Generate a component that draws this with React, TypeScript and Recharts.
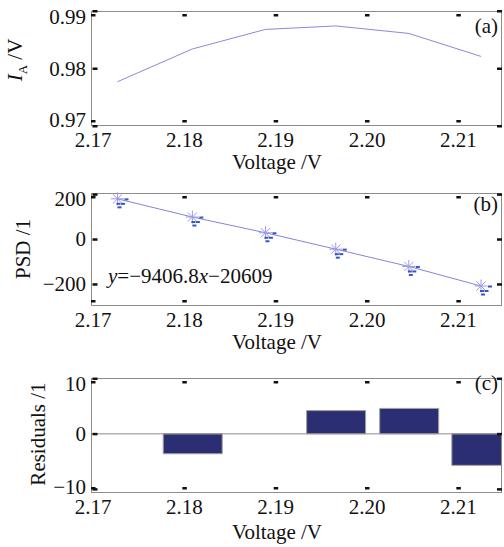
import React from "react";
import {
  ComposedChart,
  Line,
  Bar,
  XAxis,
  YAxis,
  ReferenceLine,
  Label,
} from "recharts";

// values
const voltage = [2.1729, 2.1811, 2.1891, 2.1968, 2.2048, 2.2127];
const currentA = [0.9777, 0.9834, 0.9868, 0.9874, 0.9861, 0.9821];
const psd = [180, 99, 29, -44, -121, -208];
const residuals = [0, -3.6, 0, 4.2, 4.6, -5.7];

const xTicks = [2.17, 2.18, 2.19, 2.2, 2.21];
const iaTicks = [0.97, 0.98, 0.99];
const psdTicks = [-200, 0, 200];
const resTicks = [-10, 0, 10];

const rows = voltage.map((v, i) => ({
  v,
  ia: currentA[i],
  psd: psd[i],
  res: residuals[i],
}));

const FONT = "'Liberation Serif', serif";
const W = 504;
const LEFT = 91;
const RIGHT = 502;
const X_DOMAIN: [number, number] = [2.17, 2.215];
const BORDER = "#8c8c8c";
const INK = "#111";
const TXT = { fontFamily: FONT, fontSize: 21, fill: INK };

const minus = (n: number) => (n < 0 ? "\u2212" + Math.abs(n) : String(n));

interface PanelProps {
  top: number;
  height: number;
  plotTop: number;
  plotBottom: number;
  yDomain: [number, number];
  yTicks: number[];
  yFmt: (n: number) => string;
  yLabel: React.ReactNode;
  yLabelX: number;
  yLabelY: number;
  tag: string;
  tagY: number;
  xLabelY: number;
  clip?: boolean;
  extra?: React.ReactNode;
  children: React.ReactNode;
}

function Panel(p: PanelProps) {
  const { plotTop, plotBottom } = p;

  // MATLAB-style inward ticks on bottom and top, plus the label
  const xTick = (t: any) => (
    <g>
      <rect x={t.x} y={plotBottom - 6} width={4.5} height={2.5} fill={INK} />
      <rect x={t.x} y={plotTop + 3} width={4.5} height={2.5} fill={INK} />
      <text x={t.x + 2} y={plotBottom + 6} dy="0.71em" textAnchor="middle" {...TXT}>
        {t.payload.value.toFixed(2)}
      </text>
    </g>
  );
  // inward ticks on left and right, plus the label
  const yTick = (t: any) => {
    const ly = Math.min(Math.max(t.y, plotTop + 6), plotBottom - 6);
    return (
      <g>
        <rect x={LEFT + 1.5} y={t.y - 1} width={5} height={2.5} fill={INK} />
        <rect x={RIGHT - 5} y={t.y - 1} width={5} height={2.5} fill={INK} />
        <text x={LEFT - 5} y={ly} dominantBaseline="central" textAnchor="end" {...TXT}>
          {p.yFmt(t.payload.value)}
        </text>
      </g>
    );
  };

  return (
    <div style={{ position: "absolute", left: 0, top: p.top }}>
      <ComposedChart
        width={W}
        height={p.height}
        data={rows}
        margin={{ top: plotTop, right: W - RIGHT, bottom: 0, left: 0 }}
      >
        <XAxis
          type="number"
          dataKey="v"
          domain={X_DOMAIN}
          ticks={xTicks}
          allowDataOverflow={!!p.clip}
          height={p.height - plotBottom}
          axisLine={false}
          tickLine={false}
          tick={xTick}
          interval={0}
        >
          <Label
            content={() => (
              <g>
                <rect
                  x={LEFT + 0.5}
                  y={plotTop + 0.5}
                  width={RIGHT - LEFT - 1}
                  height={plotBottom - plotTop - 1}
                  fill="none"
                  stroke={BORDER}
                  strokeWidth={1}
                />
                <text x={277} y={p.xLabelY} textAnchor="middle" {...TXT}>
                  Voltage /V
                </text>
              </g>
            )}
          />
        </XAxis>
        <YAxis
          type="number"
          domain={p.yDomain}
          ticks={p.yTicks}
          width={LEFT}
          axisLine={false}
          tickLine={false}
          tick={yTick}
          interval={0}
        >
          <Label
            content={() => (
              <g>
                <text
                  transform={`translate(${p.yLabelX},${p.yLabelY}) rotate(-90)`}
                  textAnchor="middle"
                  {...TXT}
                >
                  {p.yLabel}
                </text>
                <text x={498} y={p.tagY} textAnchor="end" {...TXT}>
                  {p.tag}
                </text>
                {p.extra}
              </g>
            )}
          />
        </YAxis>
        {p.children}
      </ComposedChart>
    </div>
  );
}

const StarDot = (d: any) => {
  const { cx, cy } = d;
  if (cx == null || cy == null) return <g />;
  const r = 6.5;
  const arms = [0, 45, 90, 135].map((a) => {
    const rad = (a * Math.PI) / 180;
    return (
      <line
        key={a}
        x1={cx - r * Math.cos(rad)}
        y1={cy - r * Math.sin(rad)}
        x2={cx + r * Math.cos(rad)}
        y2={cy + r * Math.sin(rad)}
        stroke="#9a9ae8"
        strokeWidth={1}
      />
    );
  });
  const dashes = [
    [9, 0.5],
    [1, 5],
    [5.5, 5],
    [2, 8.5],
  ].map(([dx, dy], i) => (
    <rect
      key={"d" + i}
      x={cx + dx - 2}
      y={cy + dy - 1}
      width={4}
      height={2}
      fill="#3a56c4"
    />
  ));
  return (
    <g>
      {arms}
      {dashes}
    </g>
  );
};

export default function App() {
  return (
    <div
      style={{
        position: "absolute",
        left: 0,
        top: 0,
        width: W,
        height: 547,
        background: "#fff",
      }}
    >
      <Panel
        top={0}
        height={180}
        plotTop={11}
        plotBottom={126}
        yDomain={[0.97, 0.99]}
        yTicks={iaTicks}
        yFmt={(n) => n.toFixed(2)}
        yLabel={
          <>
            <tspan fontStyle="italic">I</tspan>
            <tspan fontSize={13} dy={5}>
              A
            </tspan>
            <tspan dy={-5}> /V</tspan>
          </>
        }
        yLabelX={22}
        yLabelY={60}
        tag="(a)"
        tagY={33}
        xLabelY={169}
      >
        <Line
          dataKey="ia"
          stroke="#8a8ad8"
          strokeWidth={1}
          dot={false}
          isAnimationActive={false}
        />
      </Panel>

      <Panel
        top={180}
        height={180}
        plotTop={13}
        plotBottom={126}
        yDomain={[-297, 206]}
        yTicks={psdTicks}
        yFmt={minus}
        yLabel="PSD /1"
        yLabelX={30}
        yLabelY={69}
        tag="(b)"
        tagY={31}
        xLabelY={169}
        extra={
          <text x={108} y={103} {...TXT}>
            <tspan fontStyle="italic">y</tspan>=−9406.8
            <tspan fontStyle="italic">x</tspan>−20609
          </text>
        }
      >
        <Line
          dataKey="psd"
          stroke="#8585d8"
          strokeWidth={1}
          dot={StarDot}
          isAnimationActive={false}
        />
      </Panel>

      <Panel
        top={360}
        height={187}
        plotTop={18}
        plotBottom={133}
        yDomain={[-10.7, 10.1]}
        yTicks={resTicks}
        yFmt={minus}
        yLabel="Residuals /1"
        yLabelX={45}
        yLabelY={74}
        tag="(c)"
        tagY={30}
        xLabelY={179}
        clip
      >
        <ReferenceLine y={0} stroke={BORDER} strokeWidth={1} />
        <Bar
          dataKey="res"
          barSize={59}
          fill="#2b2e73"
          stroke="#a0a0a0"
          strokeWidth={1}
          isAnimationActive={false}
        />
      </Panel>
    </div>
  );
}
